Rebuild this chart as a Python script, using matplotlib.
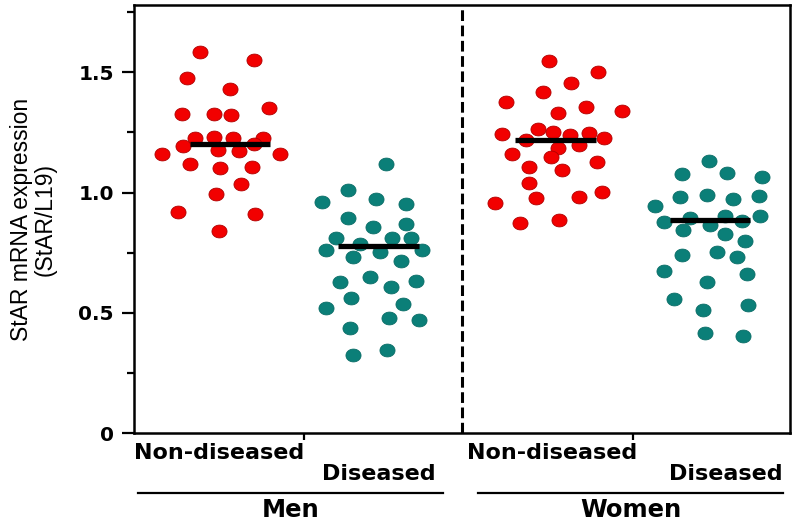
import numpy as np
import matplotlib
matplotlib.use('Agg')
import matplotlib.pyplot as plt

# StAR mRNA expression (StAR/L19)
men_nd = [1.585, 1.55, 1.476, 1.432, 1.328, 1.328, 1.324, 1.353, 1.228, 1.233, 1.228, 1.228, 1.192,
          1.203, 1.161, 1.178, 1.175, 1.161, 1.12, 1.103, 1.106, 1.036, 0.995, 0.918, 0.911, 0.842]
men_d = [1.12, 1.0125, 0.961, 0.972, 0.953, 0.894, 0.855, 0.869, 0.81, 0.786, 0.81, 0.81, 0.761, 0.733,
         0.754, 0.761, 0.717, 0.628, 0.647, 0.606, 0.633, 0.56, 0.518, 0.536, 0.478, 0.472, 0.435, 0.324, 0.345]
women_nd = [1.547, 1.501, 1.456, 1.418, 1.375, 1.358, 1.3375, 1.331, 1.242, 1.2625, 1.251, 1.24, 1.247,
            1.226, 1.217, 1.186, 1.199, 1.161, 1.15, 1.108, 1.092, 1.126, 1.039, 0.978, 0.981, 1.004,
            0.957, 0.872, 0.8875]
women_d = [1.133, 1.078, 1.082, 1.064, 0.981, 0.992, 0.974, 0.9875, 0.946, 0.879, 0.893, 0.904, 0.883,
           0.904, 0.845, 0.865, 0.828, 0.799, 0.742, 0.754, 0.731, 0.675, 0.661, 0.63, 0.556, 0.5125,
           0.532, 0.418, 0.404]

# horizontal scatter of each dot inside its column (as in the figure)
men_nd_dx = [-0.2, 0.16, -0.285, 0, -0.32, -0.11, 0.005, 0.26, -0.235, -0.11, 0.02, 0.22, -0.315, 0.16,
             -0.455, -0.08, 0.06, 0.33, -0.265, -0.07, 0.145, 0.075, -0.095, -0.35, 0.165, -0.075]
men_d_dx = [0.05, -0.205, -0.38, -0.02, 0.185, -0.205, -0.035, 0.185, -0.285, -0.125, 0.09, 0.215, -0.35,
            -0.17, 0.01, 0.29, 0.15, -0.26, -0.055, 0.08, 0.25, -0.185, -0.35, 0.165, 0.07, 0.27, -0.19,
            -0.17, 0.055]
women_nd_dx = [-0.045, 0.28, 0.1, -0.085, -0.33, 0.2, 0.44, 0.015, -0.36, -0.12, -0.02, 0.095, 0.225,
               0.325, -0.2, 0.015, 0.155, -0.29, -0.03, -0.18, 0.04, 0.275, -0.18, -0.13, 0.155, 0.31,
               -0.405, -0.24, 0.025]
women_d_dx = [-0.01, -0.19, 0.115, 0.345, -0.2, -0.02, 0.15, 0.325, -0.365, -0.31, -0.135, 0.1, 0.21,
              0.335, -0.18, 0, 0.1, 0.23, -0.19, 0.045, 0.18, -0.31, 0.245, -0.02, -0.24, -0.045, 0.25,
              -0.035, 0.22]

group_means = [1.203, 0.778, 1.217, 0.8875]
status_labels = ['Non-diseased', 'Diseased', 'Non-diseased', 'Diseased']
sex_labels = ['Men', 'Women']
y_ticks = [0, 0.5, 1.0, 1.5]
y_ticklabels = ['0', '0.5', '1.0', '1.5']

groups = [men_nd, men_d, women_nd, women_d]
offsets = [men_nd_dx, men_d_dx, women_nd_dx, women_d_dx]
colors = ['#f20000', '#0b7f78', '#f20000', '#0b7f78']
edges = ['#b00000', '#0a6d67', '#b00000', '#0a6d67']
xpos = [1.0, 1.99, 3.17, 4.2]
label_nudge = [-0.07, 0.0, -0.02, 0.107]

# slightly wide dots, like the figure
t = np.linspace(0, 2 * np.pi, 60)
dot = np.column_stack([np.cos(t), 0.85 * np.sin(t)])

fig = plt.figure(figsize=(8, 5.25), dpi=100)
ax = fig.add_axes([0.1675, 0.1752, 0.82, 0.8152])

for vals, dx, c, ec, x0 in zip(groups, offsets, colors, edges, xpos):
    ax.scatter(x0 + np.array(dx), vals, s=118, marker=dot, c=c, edgecolors=ec, linewidths=0.6, zorder=3)

# mean bars
for m, x0 in zip(group_means, xpos):
    ax.plot([x0 - 0.267, x0 + 0.267], [m, m], color='black', lw=3.8, solid_capstyle='butt', zorder=4)

# divider between men and women
ax.axvline(2.547, color='black', lw=2.2, linestyle=(0, (3.5, 1.5)), zorder=2)

ax.set_xlim(0.36, 4.733)
ax.set_ylim(0, 1.78)
for s in ax.spines.values():
    s.set_linewidth(1.8)

ax.set_yticks(y_ticks)
ax.set_yticklabels(y_ticklabels, fontfamily='DejaVu Sans', fontweight='bold', fontsize=14.5)
ax.set_yticks([0.25, 0.75, 1.25, 1.75], minor=True)
ax.tick_params(axis='y', which='major', length=8.5, width=1.6, pad=6)
ax.tick_params(axis='y', which='minor', length=5, width=1.6)

sex_centers = [(xpos[0] + xpos[1]) / 2, (xpos[2] + xpos[3]) / 2]
ax.set_xticks(sex_centers)
ax.set_xticklabels([])
ax.tick_params(axis='x', length=5, width=1.6)

ax.set_ylabel('StAR mRNA expression\n(StAR/L19)', fontfamily='Liberation Sans', fontsize=16.5,
              linespacing=1.0, labelpad=16)

# category labels under the axis
tr = ax.get_xaxis_transform()
for i, (lab, x0, nd) in enumerate(zip(status_labels, xpos, label_nudge)):
    yy = -0.046 if i % 2 == 0 else -0.095
    ax.text(x0 + nd, yy, lab, transform=tr, ha='center', va='center',
            fontfamily='DejaVu Sans', fontweight='bold', fontsize=16)

line_spans = [(0.387, 2.42), (2.653, 4.687)]
for lab, (a, b) in zip(sex_labels, line_spans):
    ax.plot([a, b], [-0.14, -0.14], transform=tr, color='black', lw=1.6, clip_on=False)
    ax.text((a + b) / 2, -0.181, lab, transform=tr, ha='center', va='center',
            fontfamily='DejaVu Sans', fontweight='bold', fontsize=17.5)

plt.savefig('out.png', dpi=100)
